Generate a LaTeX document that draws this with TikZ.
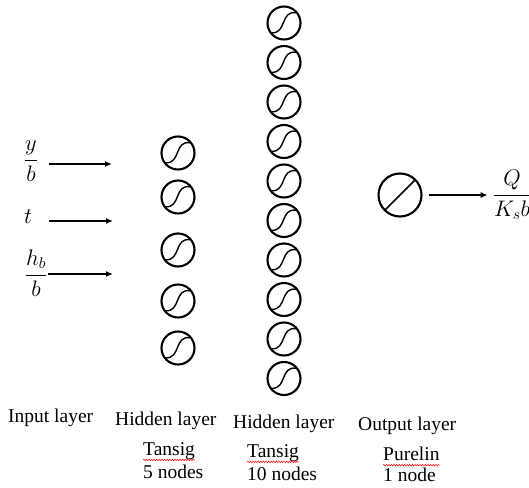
\documentclass[tikz,border=0pt]{standalone}
\usepackage{fix-cm}
\usepackage{amsmath}
\usepackage{fontspec}
\setmainfont{Liberation Serif}
\usetikzlibrary{arrows.meta,decorations.pathmorphing,calc}

\begin{document}
\begin{tikzpicture}[x=1pt,y=-1pt,
  % hidden neuron with a tansig glyph
  neuron/.style={circle,draw,line width=2.1pt,minimum size=33pt,inner sep=0pt,
    path picture={\draw[line width=1.4pt,shift={(path picture bounding box.center)}]
      (-12.5pt,-9.8pt) .. controls (3pt,-10.8pt) and (-4pt,12.6pt) .. (12pt,10.2pt);}},
  % output neuron with a purelin glyph
  outneuron/.style={circle,draw,line width=2.1pt,minimum size=43pt,inner sep=0pt,
    path picture={\draw[line width=1.6pt,shift={(path picture bounding box.center)}]
      (225:22pt) -- (45:22pt);}},
  lbl/.style={inner sep=0pt,font=\rmfamily\fontsize{19.5}{22}\selectfont},
  mlbl/.style={inner sep=0pt,font=\fontsize{22.5}{26}\selectfont},
  arr/.style={line width=1.8pt,-{Latex[length=7pt,width=6pt]}},
  squig/.style={red,line width=0.5pt,decorate,
    decoration={snake,amplitude=0.8pt,segment length=2.6pt}}]

\useasboundingbox (0,0) rectangle (529,487);

% inputs
\node[mlbl] (in1) at (31,161) {$\dfrac{y}{b}$};
\node[mlbl] (in2) at (28,217) {$t$};
\node[mlbl] (in3) at (36,273) {$\dfrac{h_b}{b}$};
\coordinate (s1) at (49,164); \coordinate (e1) at (112,164);
\coordinate (s2) at (49,221); \coordinate (e2) at (113,221);
\coordinate (s3) at (48,274); \coordinate (e3) at (113,274);
\draw[arr] (s1) -- (e1);
\draw[arr] (s2) -- (e2);
\draw[arr] (s3) -- (e3);

% first hidden layer: 5 nodes
\foreach \i/\y in {1/153,2/197,3/250,4/301,5/348}
  \node[neuron] (ha\i) at (178,\y) {};

% second hidden layer: 10 nodes
\foreach \i in {0,...,9}
  \node[neuron] (hb\i) at (284,{23+39.5*\i}) {};

% output layer
\node[outneuron] (o) at (400,195) {};
\node[mlbl] (out) at (512,195) {$\dfrac{Q}{K_s b}$};
\draw[arr] ([xshift=6pt]o.east) -- ([xshift=-5pt]out.west |- o.east);

% captions
\node[lbl,anchor=west] (c1) at (8,418) {Input layer};
\node[lbl,anchor=west] (c2) at (115,421) {Hidden layer};
\node[lbl,anchor=west] (c3) at (233,424) {Hidden layer};
\node[lbl,anchor=west] (c4) at (358,426) {Output layer};
\node[lbl,anchor=west] (f1) at (143,451) {Tansig};
\node[lbl,anchor=west] (n1) at (143,472) {5 nodes};
\node[lbl,anchor=west] (f2) at (247,453) {Tansig};
\node[lbl,anchor=west] (n2) at (247,474) {10 nodes};
\node[lbl,anchor=west] (f3) at (383,454) {Purelin};
\node[lbl,anchor=west] (n3) at (383,475) {1 node};

% spell-check underlines
\foreach \n in {f1,f2,f3}
  \draw[squig] ([yshift=-4.5pt]\n.base west) -- ([yshift=-4.5pt]\n.base east);
\end{tikzpicture}
\end{document}
